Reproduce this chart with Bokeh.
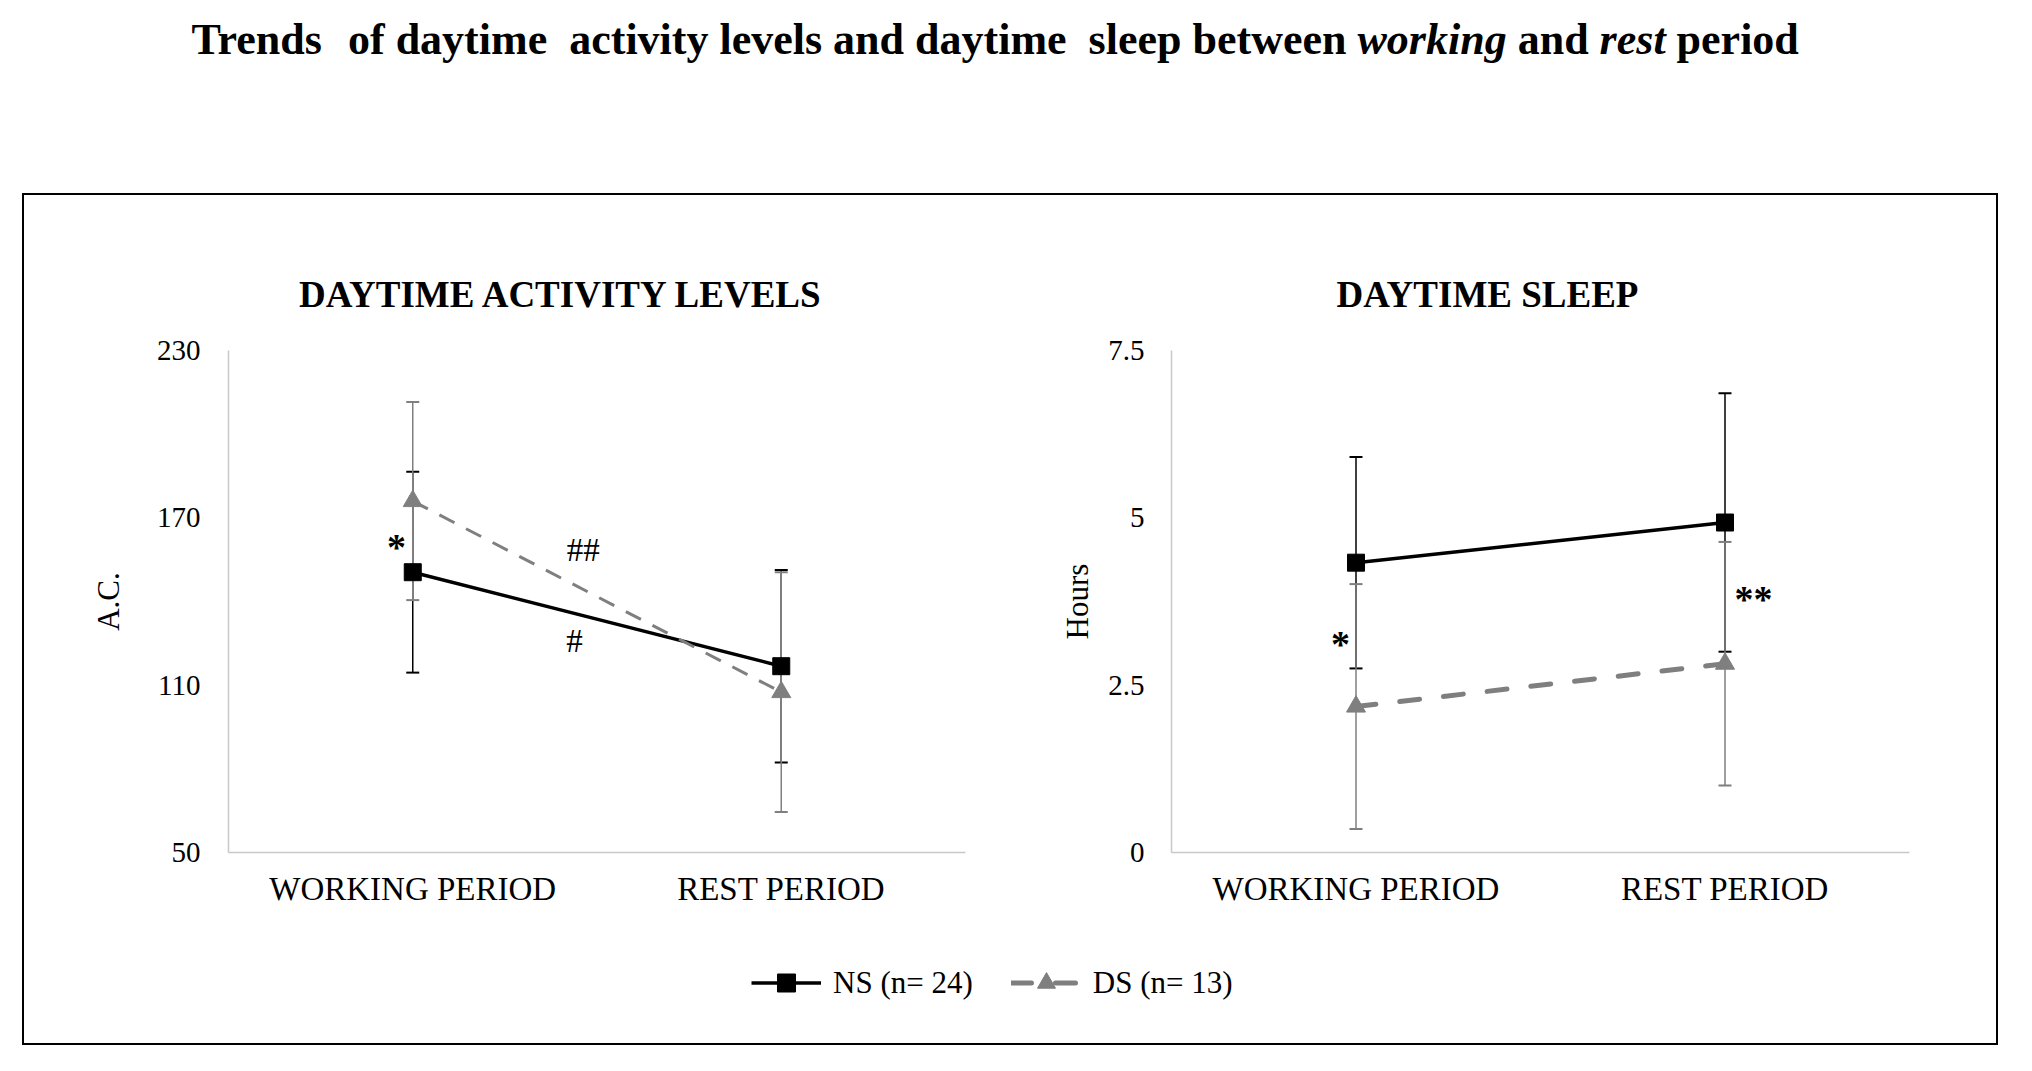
from bokeh.plotting import figure
from bokeh.models import (FactorRange, Range1d, FixedTicker, CustomJSTickFormatter, Whisker,
                          TeeHead, ColumnDataSource, Label, Legend, LegendItem, Spacer)
from bokeh.layouts import column, row
from bokeh.core.properties import value
from bokeh.embed import file_html
from bokeh.resources import INLINE

# ---------------- data ----------------
categories = ["WORKING PERIOD", "REST PERIOD"]
series_labels = ["NS (n= 24)", "DS (n= 13)"]
panel_titles = ["DAYTIME ACTIVITY LEVELS", "DAYTIME SLEEP"]
axis_titles = ["A.C.", "Hours"]

activity_ns = [150.5, 116.8]
activity_ns_err = [36.0, 34.5]
activity_ds = [176.0, 107.5]
activity_ds_err = [35.5, 43.0]

sleep_ns = [4.33, 4.93]
sleep_ns_err = [1.58, 1.93]
sleep_ds = [2.18, 2.82]
sleep_ds_err = [1.83, 1.82]

activity_ticks = [50, 110, 170, 230]
sleep_ticks = [0, 2.5, 5, 7.5]

activity_marks = ["*", "##", "#"]
sleep_marks = ["*", "**"]

# ---------------- styles ----------------
SERIF = "Liberation Serif"
NS_COLOR = "#000000"
DS_COLOR = "#7f7f7f"
AXIS_COLOR = "#c8c8c8"


def blank_fig(width, height, x0, x1, y_bottom, y_top):
    f = figure(width=width, height=height, x_range=Range1d(x0, x1),
               y_range=Range1d(y_bottom, y_top), min_border=0,
               x_axis_location=None, y_axis_location=None, title_location=None,
               output_backend="svg", toolbar_location=None)
    f.outline_line_color = None
    f.grid.visible = False
    return f


def make_panel(width, mb_left, mb_right, ymin, ymax, ticks, ylabel, tick_standoff, label_standoff):
    p = figure(x_range=FactorRange(factors=categories, range_padding=0),
               y_range=Range1d(ymin, ymax), width=width, height=614,
               min_border_left=mb_left, min_border_right=mb_right,
               min_border_top=35, min_border_bottom=77, title_location=None,
               output_backend="svg", toolbar_location=None)
    p.outline_line_color = None
    p.grid.visible = False

    xa = p.xaxis[0]
    xa.axis_line_color = AXIS_COLOR
    xa.axis_line_width = 1.5
    xa.major_tick_line_color = None
    xa.minor_tick_line_color = None
    xa.major_tick_out = 0
    xa.major_tick_in = 0
    xa.major_label_text_font = SERIF
    xa.major_label_text_font_size = "33px"
    xa.major_label_text_color = "#000000"
    xa.major_label_standoff = 18

    ya = p.yaxis[0]
    ya.ticker = FixedTicker(ticks=ticks)
    ya.formatter = CustomJSTickFormatter(code="return tick.toString()")
    ya.axis_line_color = AXIS_COLOR
    ya.axis_line_width = 1.5
    ya.major_tick_line_color = None
    ya.minor_tick_line_color = None
    ya.major_tick_out = 0
    ya.major_tick_in = 0
    ya.major_label_text_font = SERIF
    ya.major_label_text_font_size = "29px"
    ya.major_label_text_color = "#000000"
    ya.major_label_standoff = tick_standoff
    ya.axis_label = ylabel
    ya.axis_label_text_font = SERIF
    ya.axis_label_text_font_size = "31px"
    ya.axis_label_text_font_style = "normal"
    ya.axis_label_text_color = "#000000"
    ya.axis_label_standoff = label_standoff
    return p


def add_series(p, ns, ns_err, ds, ds_err, ds_width, ds_dash, ds_cap):
    ns_src = ColumnDataSource(dict(x=categories, y=ns,
                                   upper=[v + e for v, e in zip(ns, ns_err)],
                                   lower=[v - e for v, e in zip(ns, ns_err)]))
    ds_src = ColumnDataSource(dict(x=categories, y=ds,
                                   upper=[v + e for v, e in zip(ds, ds_err)],
                                   lower=[v - e for v, e in zip(ds, ds_err)]))
    for src, col in ((ns_src, NS_COLOR), (ds_src, DS_COLOR)):
        p.add_layout(Whisker(base="x", upper="upper", lower="lower", source=src,
                             line_color=col, line_width=1.5,
                             upper_head=TeeHead(size=13, line_color=col, line_width=2),
                             lower_head=TeeHead(size=13, line_color=col, line_width=2)))
    p.line("x", "y", source=ns_src, line_color=NS_COLOR, line_width=3.5)
    p.scatter("x", "y", source=ns_src, marker="square", size=17,
              fill_color=NS_COLOR, line_color=NS_COLOR)
    p.line("x", "y", source=ds_src, line_color=DS_COLOR, line_width=ds_width,
           line_dash=ds_dash, line_cap=ds_cap)
    p.scatter("x", "y", source=ds_src, marker="triangle", size=19,
              fill_color=DS_COLOR, line_color=DS_COLOR)


def add_mark(p, x, y, text, size, bold=False):
    p.add_layout(Label(x=x, y=y, text=text, text_align="center", text_baseline="alphabetic",
                       text_font=SERIF, text_font_size=size,
                       text_font_style="bold" if bold else "normal",
                       text_color="#000000"))


# ---------------- left panel ----------------
p1 = make_panel(975, 204, 34, 50, 230, activity_ticks, axis_titles[0], 28, 28)
add_series(p1, activity_ns, activity_ns_err, activity_ds, activity_ds_err, 3, "17 13", "butt")
add_mark(p1, 0.456, 159.6, activity_marks[0], "38px", bold=True)
add_mark(p1, 0.963, 158.4, activity_marks[1], "33px")
add_mark(p1, 0.939, 125.9, activity_marks[2], "33px")

# ---------------- right panel ----------------
p2 = make_panel(997, 172, 87, 0, 7.5, sleep_ticks, axis_titles[1], 27, 10)
add_series(p2, sleep_ns, sleep_ns_err, sleep_ds, sleep_ds_err, 5, "20 24", "round")
add_mark(p2, 0.458, 3.118, sleep_marks[0], "38px", bold=True)
add_mark(p2, 1.577, 3.787, sleep_marks[1], "38px", bold=True)

# ---------------- panel titles strip (screen-like coordinates) ----------------
hf = blank_fig(1972, 120, 25, 1997, 316, 196)
hf.text(x=[562, 1488], y=[295, 295], text=panel_titles, text_align="center",
        text_baseline="alphabetic", text_font=value(SERIF), text_font_style="bold",
        text_font_size="37px", text_color="#000000")

# ---------------- legend strip ----------------
lf = figure(width=1972, height=114, x_range=FactorRange(factors=categories),
            y_range=Range1d(-1000, -999), min_border=0, title_location=None,
            x_axis_location=None, y_axis_location=None,
            output_backend="svg", toolbar_location=None)
lf.outline_line_color = None
lf.grid.visible = False
r_ns_l = lf.line(categories, activity_ns, line_color=NS_COLOR, line_width=3.5)
r_ns_m = lf.scatter(categories, activity_ns, marker="square", size=17,
                    fill_color=NS_COLOR, line_color=NS_COLOR)
r_ds_l = lf.line(categories, activity_ds, line_color=DS_COLOR, line_width=5,
                 line_dash="20 24", line_cap="round")
r_ds_m = lf.scatter(categories, activity_ds, marker="triangle", size=19,
                    fill_color=DS_COLOR, line_color=DS_COLOR)
legend = Legend(items=[LegendItem(label=series_labels[0], renderers=[r_ns_l, r_ns_m]),
                       LegendItem(label=series_labels[1], renderers=[r_ds_l, r_ds_m])],
                location=(727, 38), orientation="horizontal",
                border_line_color=None, background_fill_alpha=0,
                padding=0, margin=0, spacing=38, label_standoff=12,
                glyph_width=70, glyph_height=45,
                label_text_font=SERIF, label_text_font_size="31px",
                label_text_color="#000000")
lf.add_layout(legend, "center")

# ---------------- main title ----------------
tf = blank_fig(2016, 193, 8, 2024, 201, 8)
bold_src = ColumnDataSource(dict(
    x=[199, 355.5, 576.7, 1096.1, 1525.2, 1684.1],
    text=["Trends", "of daytime", "activity levels and daytime", "sleep between", "and", "period"]))
bold_src.data["y"] = [47] * len(bold_src.data["x"])
ital_src = ColumnDataSource(dict(x=[1365, 1607.1], y=[47, 47], text=["working", "rest"]))
tf.text("x", "y", text="text", source=bold_src, text_align="left",
        text_baseline="alphabetic", text_font=value(SERIF), text_font_style="bold",
        text_font_size="44px", text_color="#000000")
tf.text("x", "y", text="text", source=ital_src, text_align="left",
        text_baseline="alphabetic", text_font=value(SERIF), text_font_style="bold italic",
        text_font_size="44px", text_color="#000000")

# ---------------- layout ----------------
frame_box = column(hf, row(p1, p2), lf, styles={"border": "2px solid black"})
root = column(tf, row(Spacer(width=22, height=1), frame_box))

open("out.html", "w").write(file_html(root, INLINE))
